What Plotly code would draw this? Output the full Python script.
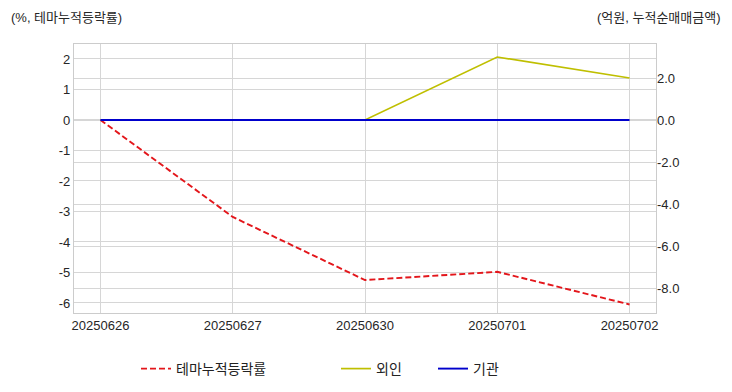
import plotly.graph_objects as go

dates = ["20250626", "20250627", "20250630", "20250701", "20250702"]
theme_cum = [0.0, -3.18, -5.25, -4.98, -6.05]
foreign = [0.0, 0.0, 0.0, 3.0, 2.0]
institution = [0.0, 0.0, 0.0, 0.0, 0.0]

left_ticks = [2, 1, 0, -1, -2, -3, -4, -5, -6]
right_ticks = [2.0, 0.0, -2.0, -4.0, -6.0, -8.0]

FONT = "Liberation Sans, Arial, Noto Sans CJK KR, sans-serif"
GRID = "#d6d6d6"

fig = go.Figure()
fig.add_trace(go.Scatter(x=dates, y=theme_cum, mode="lines", name="테마누적등락률",
                         line=dict(color="#e3161b", width=1.9, dash="6px,3px"),
                         yaxis="y", legend="legend", showlegend=True))
fig.add_trace(go.Scatter(x=dates, y=foreign, mode="lines", name="외인",
                         line=dict(color="#bfbf00", width=1.7),
                         yaxis="y2", legend="legend2", showlegend=True))
fig.add_trace(go.Scatter(x=dates, y=institution, mode="lines", name="기관",
                         line=dict(color="#0000cc", width=1.9),
                         yaxis="y2", legend="legend3", showlegend=True))

leg_common = dict(orientation="h", xref="container", yref="container",
                  xanchor="left", yanchor="middle", y=1 - 369 / 392,
                  font=dict(family=FONT, size=14, color="#222222"),
                  bgcolor="rgba(0,0,0,0)")

fig.update_layout(
    width=732, height=392, showlegend=True,
    margin=dict(l=74, r=76, t=44, b=79),
    paper_bgcolor="white", plot_bgcolor="white",
    font=dict(family=FONT, size=13, color="#262626"),
    xaxis=dict(type="category", range=[-0.2, 4.2], showgrid=True, gridcolor=GRID,
               gridwidth=1, showline=True, linecolor="#cccccc", linewidth=1.3,
               mirror=True, ticks="", tickfont=dict(size=13), zeroline=False,
               automargin=False),
    yaxis=dict(range=[-6.33, 2.49], tickvals=left_ticks,
               ticktext=[str(v) for v in left_ticks],
               showgrid=True, gridcolor=GRID, gridwidth=1, zeroline=False,
               showline=True, linecolor="#cccccc", linewidth=1.3, mirror=True,
               ticks="", tickfont=dict(size=13), automargin=False),
    yaxis2=dict(range=[-9.19, 3.62], tickvals=right_ticks,
                ticktext=[f"{v:.1f}" for v in right_ticks],
                overlaying="y", side="right", showgrid=True, gridcolor=GRID,
                gridwidth=1, zeroline=False, ticks="", tickfont=dict(size=13),
                automargin=False),
    legend=dict(x=136 / 732, **leg_common),
    legend2=dict(x=336 / 732, **leg_common),
    legend3=dict(x=433 / 732, **leg_common),
    annotations=[
        dict(text="(%, 테마누적등락률)", xref="paper", yref="paper", x=0, y=1,
             xanchor="left", yanchor="middle", xshift=-65, yshift=27, showarrow=False,
             font=dict(family=FONT, size=13, color="#262626")),
        dict(text="(억원, 누적순매매금액)", xref="paper", yref="paper", x=1, y=1,
             xanchor="right", yanchor="middle", xshift=67, yshift=27, showarrow=False,
             font=dict(family=FONT, size=13, color="#262626")),
    ],
)

fig.write_html("out.html", config={"displayModeBar": False},
               post_script="document.body.style.margin='0';")
